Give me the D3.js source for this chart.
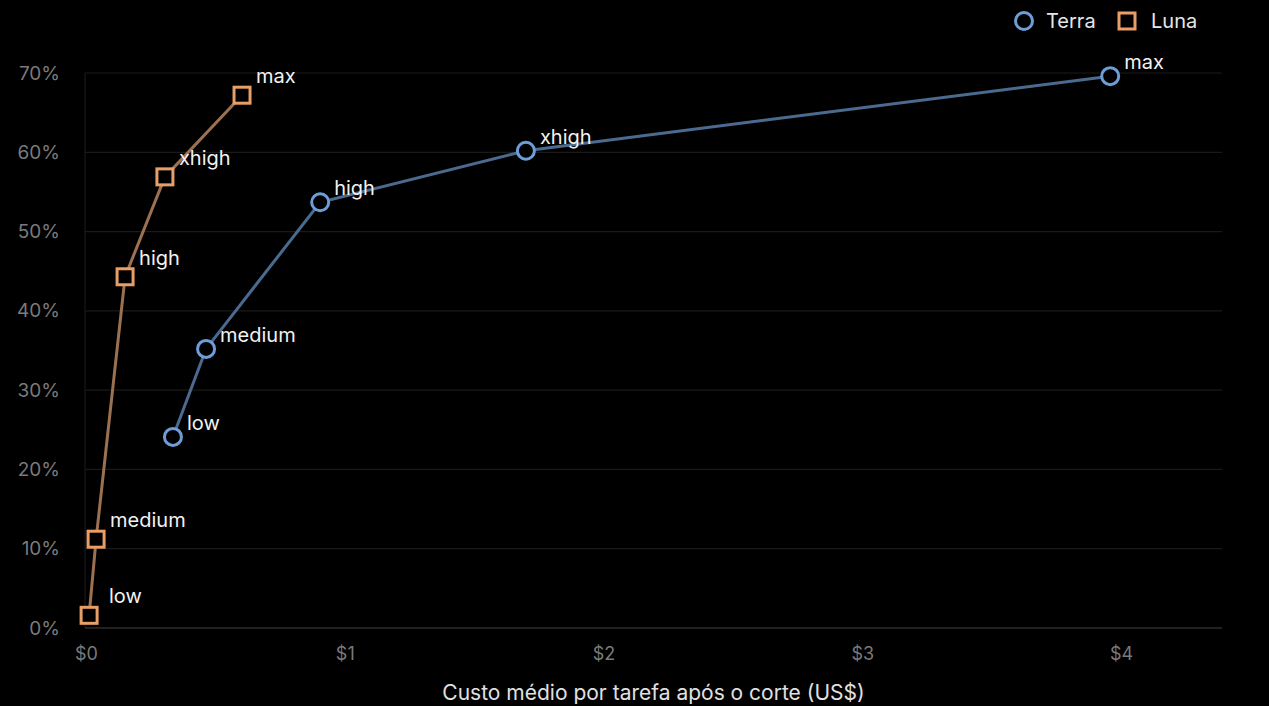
<!DOCTYPE html>
<html><head><meta charset="utf-8">
<script src="https://cdn.jsdelivr.net/npm/d3@7/dist/d3.min.js"></script>
<style>html,body{margin:0;padding:0;background:#000;}svg{display:block;}</style>
</head><body>
<svg id="c" width="1269" height="706"></svg>
<script>
const levels = ["low","medium","high","xhigh","max"];
const terraCost = [0.336, 0.464, 0.905, 1.70, 3.958];
const terraScore = [24.1, 35.2, 53.7, 60.2, 69.6];
const lunaCost = [0.012, 0.039, 0.151, 0.305, 0.603];
const lunaScore = [1.6, 11.2, 44.3, 56.9, 67.2];
const xTicks = [0,1,2,3,4];
const yTicks = [0,10,20,30,40,50,60,70];
const seriesNames = ["Terra","Luna"];
const xTitle = "Custo médio por tarefa após o corte (US$)";

const svg = d3.select("#c");
const W = 1269, H = 706;
const m = {l:85, r:47, t:73, b:78};
const x = d3.scaleLinear().domain([0,4.39]).range([m.l+1, W-m.r]);
const y = d3.scaleLinear().domain([0,70]).range([H-m.b, m.t]);
const font = "Inter, 'Noto Sans', sans-serif";

const series = [
  {name:seriesNames[0], pts:levels.map((l,i)=>({l, x:terraCost[i], y:terraScore[i]})), line:"#4b6a90", mark:"#6e9ed8", shape:"circle", dy:-7},
  {name:seriesNames[1], pts:levels.map((l,i)=>({l, x:lunaCost[i], y:lunaScore[i]})), line:"#9c7151", mark:"#e89e66", shape:"square", dy:-12}
];

// grid
svg.append("g").selectAll("line").data(yTicks.filter(d=>d>0)).join("line")
  .attr("x1", m.l).attr("x2", W-m.r)
  .attr("y1", d=>y(d)).attr("y2", d=>y(d))
  .attr("stroke", "#1a1a1a").attr("stroke-width", 1.2);
svg.append("line").attr("x1", m.l).attr("x2", m.l).attr("y1", y(70)).attr("y2", y(0))
  .attr("stroke", "#1a1a1a").attr("stroke-width", 1.2);
svg.append("line").attr("x1", m.l).attr("x2", W-m.r).attr("y1", y(0)).attr("y2", y(0))
  .attr("stroke", "#2c2c2c").attr("stroke-width", 1.5);

// axes
const yAxis = d3.axisLeft(y).tickValues(yTicks).tickFormat(d=>d+"%").tickSize(0).tickPadding(25);
const gy = svg.append("g").attr("transform", `translate(${m.l},0)`).call(yAxis);
gy.select(".domain").remove();
gy.selectAll("text").attr("fill","#7a7a7a").attr("font-size",19).attr("font-family",font);

const xAxis = d3.axisBottom(x).tickValues(xTicks).tickFormat(d=>"$"+d).tickSize(0).tickPadding(19);
const gx = svg.append("g").attr("transform", `translate(0,${y(0)})`).call(xAxis);
gx.select(".domain").remove();
gx.selectAll("text").attr("fill","#7a7a7a").attr("font-size",18).attr("font-family",font);

svg.append("text").attr("x", (m.l+W-m.r)/2).attr("y", 700)
  .attr("text-anchor","middle").attr("fill","#e0e0e0").attr("font-size",21).attr("font-family",font)
  .text(xTitle);

const lineGen = d3.line().x(d=>x(d.x)).y(d=>y(d.y));
series.forEach(s=>{
  svg.append("path").datum(s.pts).attr("d", lineGen)
    .attr("fill","none").attr("stroke", s.line).attr("stroke-width", 3);
  const g = svg.append("g");
  if (s.shape==="circle") {
    g.selectAll("circle").data(s.pts).join("circle")
      .attr("cx", d=>x(d.x)).attr("cy", d=>y(d.y)).attr("r", 8.5)
      .attr("fill","#000").attr("stroke", s.mark).attr("stroke-width", 3);
  } else {
    g.selectAll("rect").data(s.pts).join("rect")
      .attr("x", d=>x(d.x)-8).attr("y", d=>y(d.y)-8).attr("width",16).attr("height",16)
      .attr("fill","#000").attr("stroke", s.mark).attr("stroke-width", 3);
  }
  svg.append("g").selectAll("text").data(s.pts).join("text")
    .attr("x", d=>Math.max(x(d.x)+14, 109)).attr("y", d=>y(d.y)+s.dy)
    .attr("fill","#f2f2f2").attr("font-size",20).attr("font-family",font)
    .text(d=>d.l);
});

// legend
const lg = svg.append("g");
lg.append("circle").attr("cx",1024).attr("cy",21).attr("r",8.5)
  .attr("fill","#000").attr("stroke",series[0].mark).attr("stroke-width",3);
lg.append("text").attr("x",1046).attr("y",28).attr("fill","#e6e6e6").attr("font-size",20).attr("font-family",font).text(series[0].name);
lg.append("rect").attr("x",1119).attr("y",13).attr("width",16).attr("height",16)
  .attr("fill","#000").attr("stroke",series[1].mark).attr("stroke-width",3);
lg.append("text").attr("x",1151).attr("y",28).attr("fill","#e6e6e6").attr("font-size",20).attr("font-family",font).text(series[1].name);
</script>
</body></html>
